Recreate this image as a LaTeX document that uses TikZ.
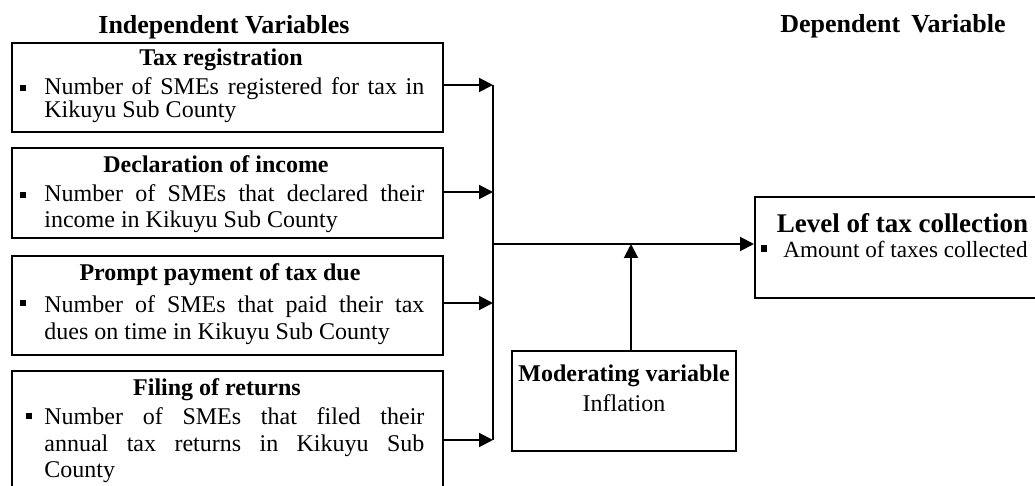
\documentclass[tikz,border=0pt]{standalone}
\usepackage{fontspec}
\setmainfont{Liberation Serif}
\usetikzlibrary{arrows.meta,fit}
\newcommand{\jl}[1]{\makebox[190pt][s]{#1}}
\begin{document}
\begin{tikzpicture}[x=0.5pt,y=-0.5pt,
 box/.style={draw, line width=1pt, inner sep=0pt},
 conn/.style={line width=1pt},
 arr/.style={conn,-{Triangle[length=7pt,width=7pt]}},
 hdr/.style={anchor=base, inner sep=0pt, font=\fontsize{13}{13}\selectfont\bfseries},
 ttl/.style={anchor=base, inner sep=0pt, font=\fontsize{12}{12}\selectfont\bfseries},
 txt/.style={anchor=base west, inner sep=0pt, font=\fontsize{12}{12}\selectfont},
 bul/.style={fill, inner sep=0pt, minimum size=3pt},
]
\useasboundingbox (0,0) rectangle (1035,486);
\clip (0,0) rectangle (1035,486);

% headers
\node[hdr] (hi) at (224,34) {Independent Variables};
\node[hdr] (hd) at (893,33) {Dependent\hspace{5.5pt}Variable};

% boxes
\node[box, fit={(12,43) (443,132)}] (b1) {};
\node[box, fit={(12,148) (443,238)}] (b2) {};
\node[box, fit={(12,256) (443,355)}] (b3) {};
\node[box, fit={(12,371) (443,505)}] (b4) {};
\node[box, fit={(755,197) (1050,298)}] (dep) {};
\node[box, fit={(512,351) (736,451)}] (mod) {};

% box 1
\node[ttl] (t1) at (221,66) {Tax registration};
\node[bul] (u1) at (22.5,88.5) {};
\node[txt] (l11) at (44,95) {\jl{Number of SMEs registered for tax in}};
\node[txt] (l12) at (44,118) {Kikuyu Sub County};

% box 2
\node[ttl] (t2) at (216,173) {Declaration of income};
\node[bul] (u2) at (22.5,195) {};
\node[txt] (l21) at (44,202) {\jl{Number of SMEs that declared their}};
\node[txt] (l22) at (44,228) {income in Kikuyu Sub County};

% box 3
\node[ttl] (t3) at (220,281) {Prompt payment of tax due};
\node[bul] (u3) at (22.5,303) {};
\node[txt] (l31) at (44,313) {\jl{Number of SMEs that paid their tax}};
\node[txt] (l32) at (44,340) {dues on time in Kikuyu Sub County};

% box 4
\node[ttl] (t4) at (217,396) {Filing of returns};
\node[bul] (u4) at (28.5,416) {};
\node[txt] (l41) at (44,425) {\jl{Number of SMEs that filed their}};
\node[txt] (l42) at (44,452) {\jl{annual tax returns in Kikuyu Sub}};
\node[txt] (l43) at (44,478) {County};

% dependent
\node[anchor=base, inner sep=0pt, font=\fontsize{13.5}{13.5}\selectfont\bfseries] (td) at (902.5,233) {Level of tax collection};
\node[bul, minimum size=3.2pt] (ud) at (764,248.5) {};
\node[anchor=base west, inner sep=0pt, font=\fontsize{11.6}{11.6}\selectfont] (ld) at (783,258) {Amount of taxes collected};

% moderating
\node[ttl] (tm) at (624,382) {Moderating variable};
\node[anchor=base, inner sep=0pt, font=\fontsize{12}{12}\selectfont] (lm) at (624,412) {Inflation};

% connectors
\coordinate (j1) at (493,85);
\coordinate (j2) at (493,192);
\coordinate (j3) at (493,303);
\coordinate (j4) at (493,440);
\coordinate (jm) at (493,244);
\coordinate (mj) at (631,244);
\draw[arr] (b1.east |- j1) -- (j1);
\draw[arr] (b2.east |- j2) -- (j2);
\draw[arr] (b3.east |- j3) -- (j3);
\draw[arr] (b4.east |- j4) -- (j4);
\draw[conn] (j1) -- (j4);
\draw[arr] (jm) -- (dep.west |- jm);
\draw[arr] (mod.north -| mj) -- (mj);
\end{tikzpicture}
\end{document}
